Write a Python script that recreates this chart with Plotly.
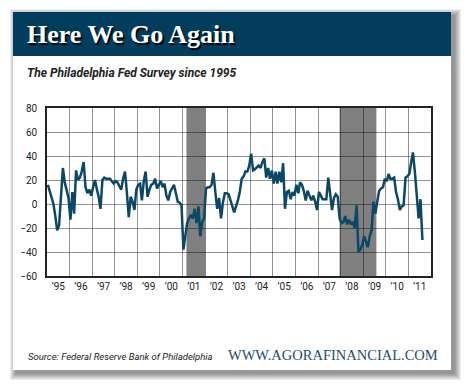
import plotly.graph_objects as go

# ---------------- data (Philadelphia Fed general activity index, monthly) ----------------
v1995 = [16, 11, 6, 0, -10, -22, -18, 5, 30, 18, 10, 5]
v1996 = [-13, 10, -8, 28, 20, 22, 27, 35, 14, 9, 12, 7]
v1997 = [14, 20, 13, 6, -4, 20, 22, 21, 21, 21, 19, 17]
v1998 = [19, 18, 15, 12, 21, 27, 10, -11, 6, 2, -5, 12]
v1999 = [16, 17, 3, 19, 27, 6, 12, 16, 17, 21, 13, 16]
v2000 = [19, 14, 17, 7, 3, 10, 13, 16, 9, 2, 1, -1]
v2001 = [-38, -24, -16, -12, -9, -12, -4, -16, -2, -27, -15, -12]
v2002 = [13, 14, 14, 16, 26, 10, -4, 5, -12, 1, 9, 9]
v2003 = [8, 3, -2, -7, -2, 3, 10, 21, 23, 27, 27, 32]
v2004 = [42, 28, 29, 31, 32, 30, 35, 38, 22, 30, 21, 28]
v2005 = [17, 27, 17, 27, 18, 34, -4, 10, 11, 4, 10, 7]
v2006 = [16, 9, 18, 16, 11, 3, 11, 7, 3, 7, 2, -5]
v2007 = [10, 7, 4, 4, 4, 22, 7, -5, 5, 8, 6, -12]
v2008 = [-16, -15, -10, -17, -13, -17, -15, -20, -1, -40, -38, -34]
v2009 = [-27, -31, -36, -27, -22, 2, -8, 2, 11, 13, 14, 21]
v2010 = [19, 25, 21, 21, 22, 10, 4, -5, -2, -1, 22, 23]
v2011 = [25, 35, 43, 27, 10, -12, 4, -30]

series = (v1995 + v1996 + v1997 + v1998 + v1999 + v2000 + v2001 + v2002 + v2003
          + v2004 + v2005 + v2006 + v2007 + v2008 + v2009 + v2010 + v2011)
start_year = 1995
dates = [f"{start_year + i // 12}-{i % 12 + 1:02d}-15" for i in range(len(series))]

recessions = [("2001-03-05", "2002-01-03"), ("2007-12-15", "2009-08-01")]
y_ticks = [-60, -40, -20, 0, 20, 40, 60, 80]

# ---------------- geometry helpers (pixel -> paper) ----------------
W, H = 470, 392
L, R, T, B = 47, 431, 108, 276


def px(x):
    return (x - L) / (R - L)


def py(y):
    return (B - y) / (B - T)


fig = go.Figure()
fig.add_trace(go.Scatter(x=dates, y=series, mode="lines",
                         line=dict(color="#0b4868", width=2.5),
                         hoverinfo="skip", showlegend=False))

shapes = []
# card drop shadow
for i in range(7):
    shapes.append(dict(type="rect", xref="paper", yref="paper", layer="below",
                       x0=px(13 + 3 - i), x1=px(451 + 4 + i),
                       y0=py(12 + 3 - i), y1=py(370 + 4 + i),
                       fillcolor="rgba(0,0,0,0.07)", line=dict(width=0)))
# card
shapes.append(dict(type="rect", xref="paper", yref="paper", layer="below",
                   x0=px(13), x1=px(451), y0=py(12), y1=py(370),
                   fillcolor="white", line=dict(width=0)))
# header band
shapes.append(dict(type="rect", xref="paper", yref="paper", layer="below",
                   x0=px(13), x1=px(451), y0=py(12), y1=py(56),
                   fillcolor="#023d5d", line=dict(width=0)))
# recession shading
for a, b in recessions:
    shapes.append(dict(type="rect", xref="x", yref="y domain", layer="below",
                       x0=a, x1=b, y0=0, y1=1,
                       fillcolor="#808080", line=dict(width=0)))

annotations = [
    dict(text="Here We Go Again", x=px(25), y=py(34), xref="paper", yref="paper",
         xanchor="left", yanchor="middle", showarrow=False,
         font=dict(family="Liberation Serif", size=26, color="white", weight="bold",
                   shadow="1.5px 1.5px 1px #000000")),
    dict(text="<b><i>The Philadelphia Fed Survey since 1995</i></b>", x=px(25), y=py(73),
         xref="paper", yref="paper", xanchor="left", yanchor="middle", showarrow=False,
         font=dict(family="Roboto", size=12, color="#222222")),
    dict(text="<i>Source: Federal Reserve Bank of Philadelphia</i>", x=px(26), y=py(356),
         xref="paper", yref="paper", xanchor="left", yanchor="middle", showarrow=False,
         font=dict(family="Roboto", size=9.5, color="#222222")),
    dict(text="WWW.AGORAFINANCIAL.COM", x=px(440), y=py(355),
         xref="paper", yref="paper", xanchor="right", yanchor="middle", showarrow=False,
         font=dict(family="Liberation Serif", size=14.5, color="#1d4d6d")),
]

fig.update_layout(
    width=W, height=H,
    margin=dict(l=L, r=W - R, t=T, b=H - B, pad=0),
    paper_bgcolor="white", plot_bgcolor="white",
    shapes=shapes, annotations=annotations,
    font=dict(family="Roboto", size=10, color="#222222"),
    xaxis=dict(type="date", range=["1995-01-01", "2012-01-01"],
               tick0="1995-01-01", dtick="M12", tickformat="’%y",
               ticklabelmode="period", showgrid=True,
               gridcolor="rgba(0,0,0,0.42)", gridwidth=1,
               showline=True, mirror=True, linecolor="#222222", linewidth=1.5,
               ticks="", zeroline=False, fixedrange=True,
               tickfont=dict(family="Roboto", size=10, color="#222222")),
    yaxis=dict(range=[-60, 80], tickvals=y_ticks, showgrid=True,
               gridcolor="rgba(0,0,0,0.42)", gridwidth=1,
               showline=True, mirror=True, linecolor="#222222", linewidth=1.5,
               ticks="", zeroline=False, fixedrange=True, ticklabelstandoff=6,
               tickfont=dict(family="Roboto", size=10, color="#222222")),
)

fig.write_html("out.html", config={"displayModeBar": False},
               post_script="document.body.style.margin='0';document.body.style.padding='0';")
